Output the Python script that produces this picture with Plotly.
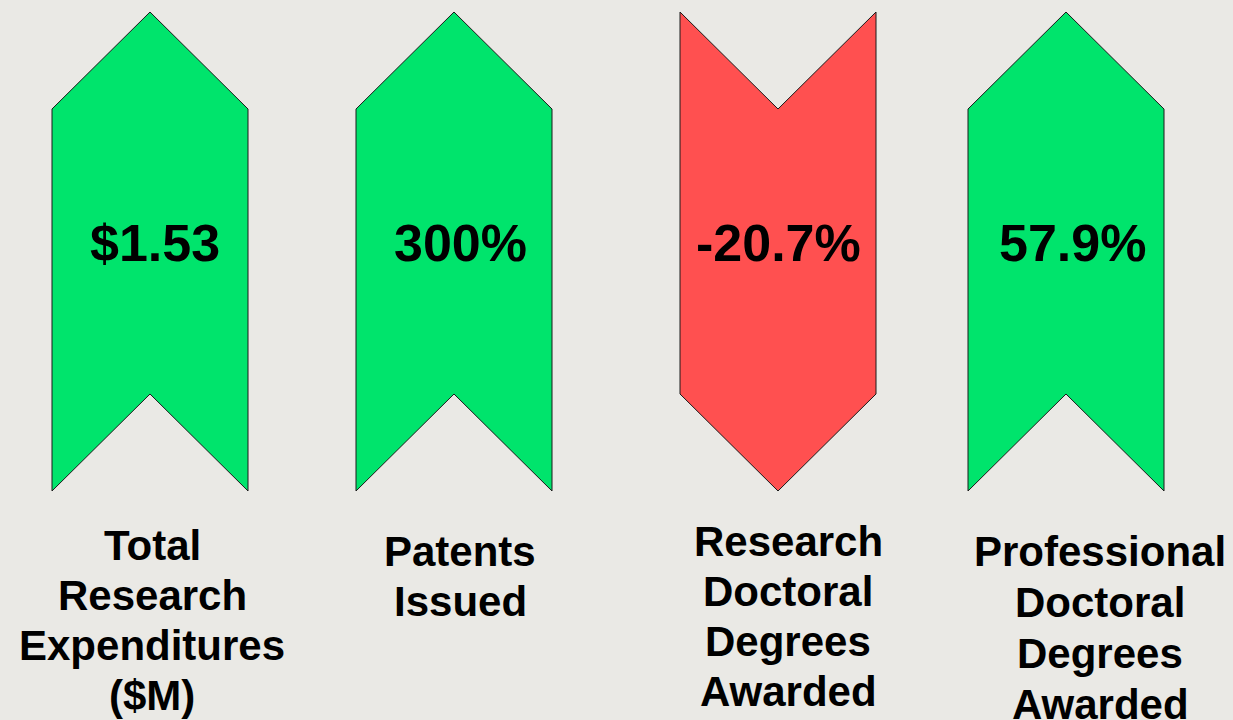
import plotly.graph_objects as go

# ---- data ----
categories = [
    "Total<br>Research<br>Expenditures<br>($M)",
    "Patents<br>Issued",
    "Research<br>Doctoral<br>Degrees<br>Awarded",
    "Professional<br>Doctoral<br>Degrees<br>Awarded",
]
values = [1.53, 300.0, -20.7, 57.9]
value_labels = ["$1.53", "300%", "-20.7%", "57.9%"]

# ---- layout / style constants ----
W, H = 1233, 720
centers = [150, 454, 778, 1066]
label_x = [152, 460, 788, 1100]
label_first = [545, 551, 541, 551]
label_step = [50, 50, 50.3, 51]
value_dx = [5, 6, 0, 6]
half_w = 98
top_y, bot_y = 12, 491
tip = 97
value_y = 243
GREEN = "#00e46c"
RED = "#ff5050"
BG = "#eae9e5"
FONT = "Liberation Sans, Arial, sans-serif"

fig = go.Figure()

for i, (c, v) in enumerate(zip(centers, values)):
    if v >= 0:
        xs = [c, c + half_w, c + half_w, c, c - half_w, c - half_w, c]
        ys = [top_y, top_y + tip, bot_y, bot_y - tip, bot_y, top_y + tip, top_y]
        col = GREEN
    else:
        xs = [c - half_w, c, c + half_w, c + half_w, c, c - half_w, c - half_w]
        ys = [top_y, top_y + tip, top_y, bot_y - tip, bot_y, bot_y - tip, top_y]
        col = RED
    fig.add_trace(go.Scatter(
        x=xs, y=ys, mode="lines", fill="toself", fillcolor=col,
        line=dict(color="#1a1a1a", width=1), hoverinfo="skip", showlegend=False,
    ))
    fig.add_annotation(
        x=c + value_dx[i], y=value_y, text="<b>%s</b>" % value_labels[i],
        showarrow=False, xanchor="center", yanchor="middle",
        font=dict(family=FONT, size=52, color="#000"),
    )
    for j, line in enumerate(categories[i].split("<br>")):
        fig.add_annotation(
            x=label_x[i], y=label_first[i] + j * label_step[i], text="<b>%s</b>" % line,
            showarrow=False, xanchor="center", yanchor="middle", align="center",
            font=dict(family=FONT, size=42, color="#000"),
        )

fig.update_layout(
    width=W, height=H,
    margin=dict(l=0, r=0, t=0, b=0),
    paper_bgcolor=BG, plot_bgcolor=BG,
    xaxis=dict(range=[0, W], visible=False, fixedrange=True),
    yaxis=dict(range=[H, 0], visible=False, fixedrange=True),
    showlegend=False,
)

fig.write_html(
    "out.html",
    config={"displayModeBar": False},
    post_script="document.body.style.margin='0';document.body.style.overflow='hidden';",
)
